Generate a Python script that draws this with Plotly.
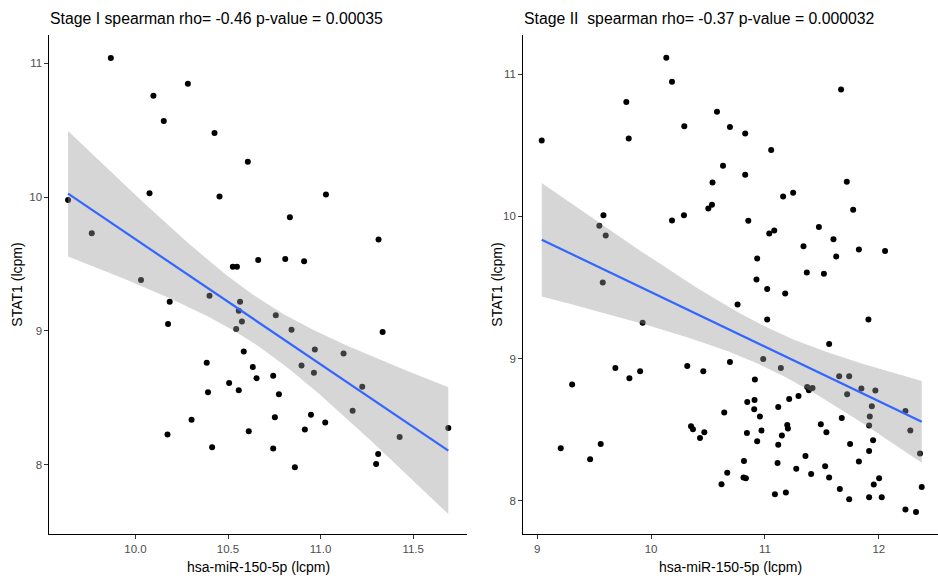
import numpy as np
import plotly.graph_objects as go

# ---------------- data ----------------
stage1_mir = [9.867, 10.097, 10.283, 10.153, 10.427, 10.607, 9.636, 10.076, 10.454, 9.764,
              10.663, 10.526, 10.548, 10.03, 10.4, 11.029, 10.834, 11.313, 10.809, 10.911,
              10.185, 10.565, 10.558, 10.575, 10.544, 10.176, 10.585, 10.385, 10.634, 10.654,
              10.506, 10.558, 10.392, 10.303, 10.173, 10.612, 10.414, 10.758, 10.843, 10.969,
              11.124, 11.335, 10.897, 10.964, 10.744, 10.775, 11.225, 11.173, 10.753, 10.948,
              11.025, 10.915, 11.427, 11.69, 10.744, 11.311, 11.3, 10.861]
stage1_stat1 = [11.04, 10.757, 10.847, 10.57, 10.48, 10.265, 9.978, 10.03, 10.005, 9.73,
                9.53, 9.48, 9.48, 9.38, 9.263, 10.02, 9.85, 9.683, 9.538, 9.52,
                9.218, 9.218, 9.15, 9.07, 9.014, 9.051, 8.846, 8.763, 8.73, 8.646,
                8.611, 8.556, 8.541, 8.336, 8.226, 8.251, 8.131, 9.118, 9.008, 8.861,
                8.831, 8.993, 8.741, 8.688, 8.666, 8.526, 8.583, 8.403, 8.354, 8.373,
                8.316, 8.264, 8.208, 8.274, 8.121, 8.081, 8.006, 7.981]

stage2_mir = [9.040, 9.783, 9.804, 10.134, 10.184, 10.292, 10.579, 10.540, 10.503, 10.535,
              10.289, 10.184, 9.582, 9.546, 9.602, 9.576, 11.669, 10.693, 10.827, 11.055,
              10.632, 10.827, 11.719, 11.160, 11.248, 11.775, 10.854, 11.038, 11.082, 11.474,
              11.602, 11.339, 11.825, 12.055, 11.626, 10.932, 11.368, 11.518, 10.926, 11.020,
              11.178, 9.926, 9.307, 9.687, 9.810, 9.904, 10.318, 10.459, 9.207, 9.465,
              9.558, 10.351, 10.368, 10.430, 10.468, 10.760, 11.020, 11.909, 11.564, 10.985,
              11.140, 10.693, 10.912, 11.652, 11.740, 11.371, 11.418, 11.386, 11.847, 11.970,
              11.722, 11.295, 11.213, 10.909, 10.845, 11.117, 11.939, 12.234, 10.906, 10.643,
              10.956, 11.675, 11.921, 11.196, 11.202, 11.491, 11.915, 10.842, 10.970, 11.540,
              12.277, 11.149, 10.932, 11.950, 11.117, 11.748, 11.915, 12.362, 11.356, 10.816,
              11.825, 11.111, 11.529, 11.275, 10.669, 11.406, 10.812, 10.833, 11.564, 12.003,
              11.956, 10.619, 12.377, 11.658, 11.088, 11.184, 11.740, 11.915, 12.026, 12.234,
              12.327]
stage2_stat1 = [10.535, 10.805, 10.549, 11.117, 10.948, 10.634, 10.737, 10.239, 10.056, 10.082,
                10.009, 9.972, 10.009, 9.934, 9.866, 9.535, 10.894, 10.629, 10.584, 10.467,
                10.357, 10.293, 10.244, 10.141, 10.166, 10.047, 9.969, 9.880, 9.901, 9.925,
                9.840, 9.791, 9.768, 9.756, 9.718, 9.704, 9.606, 9.596, 9.556, 9.490,
                9.458, 9.251, 8.817, 8.934, 8.861, 8.911, 8.948, 8.911, 8.368, 8.291,
                8.399, 8.523, 8.502, 8.441, 8.481, 9.380, 9.275, 9.275, 9.103, 8.997,
                8.934, 8.976, 8.852, 8.875, 8.875, 8.800, 8.793, 8.777, 8.789, 8.775,
                8.749, 8.737, 8.715, 8.708, 8.694, 8.659, 8.664, 8.631, 8.643, 8.620,
                8.592, 8.582, 8.592, 8.532, 8.507, 8.537, 8.528, 8.476, 8.493, 8.481,
                8.493, 8.458, 8.418, 8.425, 8.394, 8.399, 8.349, 8.331, 8.314, 8.279,
                8.275, 8.265, 8.242, 8.225, 8.197, 8.187, 8.162, 8.157, 8.162, 8.157,
                8.113, 8.115, 8.096, 8.082, 8.044, 8.058, 8.009, 8.023, 8.023, 7.937,
                7.920]

titles = ["Stage I spearman rho= -0.46 p-value = 0.00035",
          "Stage II\u00a0 spearman rho= -0.37 p-value = 0.000032"]
x_label = "hsa-miR-150-5p (lcpm)"
y_label = "STAT1 (lcpm)"
x_ticks = [[10.0, 10.5, 11.0, 11.5], [9, 10, 11, 12]]
x_ticktext = [["10.0", "10.5", "11.0", "11.5"], ["9", "10", "11", "12"]]
y_ticks = [[8, 9, 10, 11], [8, 9, 10, 11]]


def t975(df):
    z = 1.959963985
    return (z + (z**3 + z) / (4 * df) + (5 * z**5 + 16 * z**3 + 3 * z) / (96 * df**2)
            + (3 * z**7 + 19 * z**5 + 17 * z**3 - 15 * z) / (384 * df**3))


def lm_band(x, y, n=80):
    x = np.asarray(x, float)
    y = np.asarray(y, float)
    N = len(x)
    b1, b0 = np.polyfit(x, y, 1)
    resid = y - (b0 + b1 * x)
    s = np.sqrt(np.sum(resid**2) / (N - 2))
    xm = x.mean()
    sxx = np.sum((x - xm) ** 2)
    xs = np.linspace(x.min(), x.max(), n)
    fit = b0 + b1 * xs
    se = s * np.sqrt(1.0 / N + (xs - xm) ** 2 / sxx)
    t = t975(N - 2)
    return xs, fit, fit - t * se, fit + t * se


fig = go.Figure()
data = [(stage1_mir, stage1_stat1), (stage2_mir, stage2_stat1)]
for i, (xv, yv) in enumerate(data):
    xa = "x" if i == 0 else "x2"
    ya = "y" if i == 0 else "y2"
    fig.add_trace(go.Scatter(x=xv, y=yv, mode="markers", xaxis=xa, yaxis=ya,
                             marker=dict(color="black", size=6), showlegend=False,
                             hoverinfo="x+y"))
    xs, fit, lo, hi = lm_band(xv, yv)
    fig.add_trace(go.Scatter(x=np.concatenate([xs, xs[::-1]]),
                             y=np.concatenate([hi, lo[::-1]]),
                             mode="lines", fill="toself", xaxis=xa, yaxis=ya,
                             fillcolor="rgba(153,153,153,0.4)", line=dict(width=0),
                             showlegend=False, hoverinfo="skip"))
    fig.add_trace(go.Scatter(x=xs, y=fit, mode="lines", xaxis=xa, yaxis=ya,
                             line=dict(color="#3366FF", width=2.2), showlegend=False))

W, H = 938, 585
dom_x = [[49 / W, 467.4 / W], [522.7 / W, 1.0]]
dom_y = [1 - 534.3 / H, 1 - 35 / H]
x_ranges = [[9.533, 11.793], [8.873, 12.52]]
y_ranges = [[7.48, 11.212], [7.763, 11.277]]

axis_common = dict(showgrid=False, zeroline=False, showline=True, linecolor="black",
                   linewidth=1.1, ticks="outside", ticklen=3.5, tickcolor="#333333",
                   tickwidth=1.1, tickfont=dict(family="Liberation Sans, Arial", size=11.5,
                                                color="#4D4D4D"))
layout = dict(width=W, height=H, margin=dict(l=0, r=0, t=0, b=0),
              paper_bgcolor="white", plot_bgcolor="white",
              font=dict(family="Liberation Sans, Arial", color="black"))
for i in range(2):
    sfx = "" if i == 0 else "2"
    layout["xaxis" + sfx] = dict(axis_common, domain=dom_x[i], range=x_ranges[i],
                                 tickvals=x_ticks[i], ticktext=x_ticktext[i],
                                 anchor="y" + sfx)
    layout["yaxis" + sfx] = dict(axis_common, domain=dom_y, range=y_ranges[i],
                                 tickvals=y_ticks[i], anchor="x" + sfx)
fig.update_layout(**layout)

ann = []
title_x = [48, 522]
ylab_x = [17, 497]
for i in range(2):
    ann.append(dict(text=titles[i], xref="paper", yref="paper", x=title_x[i] / W,
                    y=1 - 18 / H, xanchor="left", yanchor="middle", showarrow=False,
                    font=dict(size=15.8, color="black")))
    cx = (dom_x[i][0] + dom_x[i][1]) / 2
    ann.append(dict(text=x_label, xref="paper", yref="paper", x=cx, y=1 - 567 / H,
                    xanchor="center", yanchor="middle", showarrow=False,
                    font=dict(size=14, color="black")))
    ann.append(dict(text=y_label, xref="paper", yref="paper", x=ylab_x[i] / W,
                    y=(dom_y[0] + dom_y[1]) / 2, xanchor="center", yanchor="middle",
                    textangle=-90, showarrow=False, font=dict(size=14, color="black")))
fig.update_layout(annotations=ann)

fig.write_html("out.html")
